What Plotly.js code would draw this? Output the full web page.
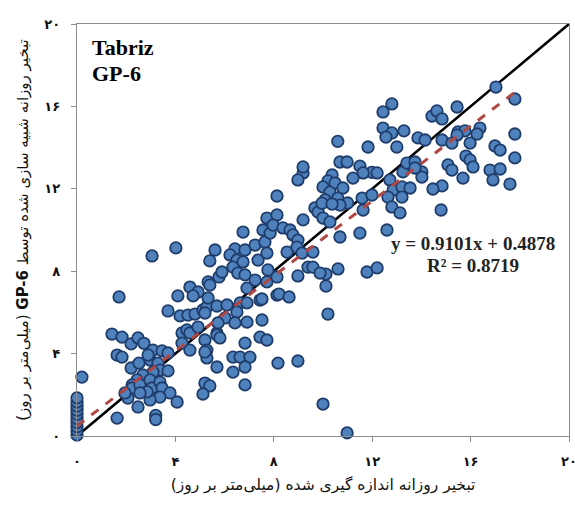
<!DOCTYPE html>
<html>
<head>
<meta charset="utf-8">
<script src="https://cdn.plot.ly/plotly-3.0.1.min.js"></script>
<style>html,body{margin:0;padding:0;background:#fff;}#chart{width:575px;height:505px;}</style>
</head>
<body>
<div id="chart"></div>
<script>
// Measured daily evaporation (mm/day)
const measured = [
0,0,0,0,0,0,0,0,0,0,
0.2,1.63,3.2,3.2,1.42,1.83,2.2,2.48,2.72,3.09,
3.46,3.7,1.63,1.83,2.2,2.52,2.97,2.89,3.29,3.37,
3.7,3.09,2.68,2.44,2.24,2.24,2.56,2.97,3.05,3.37,
3.46,3.78,4.07,3.37,2.97,2.85,2.56,2.48,2.07,1.95,
4.27,4.47,4.59,4.92,4.27,4.59,5.2,5.69,5.28,5.28,
5.69,5.2,5.4,5.12,3.7,4.19,4.51,4.8,5.12,5.28,
5.69,5.2,1.71,3.05,4.02,5.61,5.4,5.77,5.89,5.33,
5.4,4.59,4.92,4.72,4.1,5.33,6.75,6.42,6.83,7.24,
7.64,7.72,8.13,8.13,7.56,7.85,7.36,7.72,6.22,6.5,
6.75,6.34,6.54,6.83,7.24,6.91,7.44,7.76,7.72,8.13,
8.13,6.63,6.5,6.02,6.91,7.52,6.42,6.1,6.91,5.73,
5.69,5.81,5.2,6.34,6.63,7.03,6.83,6.83,6.34,6.83,
7.44,7.72,8.17,8.98,8.98,10.12,10.61,10.12,11.79,12.2,
8.21,8.62,10.2,7.52,10.0,10.98,9.39,9.59,10.6,11.83,
10.69,10.98,11.5,11.99,12.2,11.63,11.22,10.37,10.2,10.0,
10.49,10.81,10.28,10.08,10.6,11.0,10.69,9.19,8.98,9.67,
9.8,10.0,10.28,10.69,11.5,11.63,11.59,9.19,7.97,8.37,
8.66,8.78,8.98,8.54,8.94,9.15,9.59,9.88,12.6,12.8,
12.44,12.44,12.8,12.56,13.29,13.0,13.86,14.15,14.43,9.96,
10.37,11.99,12.72,13.25,13.41,13.74,14.02,12.85,13.21,13.54,
12.64,13.21,12.8,13.13,9.19,17.03,17.8,15.45,14.63,14.84,
15.49,15.77,15.45,16.38,16.26,15.98,17.8,14.84,15.24,16.99,
17.2,17.8,15.81,15.98,16.1,15.08,15.24,16.79,17.2,16.91,
17.6,15.69,14.84,14.47,14.02,13.74,14.8
];
// Simulated daily evaporation by GP-6 (mm/day)
const simulated = [
0.05,0.25,0.45,0.65,0.85,1.05,1.25,1.45,1.65,1.85,
2.86,0.87,1.0,0.8,4.95,4.8,4.47,4.76,4.5,4.17,
4.13,4.03,3.93,3.83,3.3,3.54,3.69,3.93,3.54,3.2,
3.16,3.1,2.96,2.72,2.48,2.33,2.48,2.72,2.33,2.62,
2.33,2.09,1.65,1.89,1.75,2.14,2.09,1.41,1.84,2.09,
5.0,5.15,5.0,5.29,4.51,4.17,4.66,5.0,4.17,3.79,
3.35,2.57,2.43,2.04,6.07,5.83,5.87,5.92,6.12,6.26,
6.31,5.97,6.75,8.74,9.13,9.03,8.5,7.72,7.96,7.48,
7.33,7.23,6.99,6.8,6.8,6.7,9.9,9.08,9.03,9.27,
9.42,10.58,10.73,11.65,10.0,9.85,8.54,8.88,8.79,8.54,
8.45,8.2,7.91,7.82,7.57,7.18,6.6,8.06,7.48,7.72,
6.84,6.46,6.02,5.73,5.53,5.63,5.49,6.36,6.46,5.49,
4.9,4.76,4.08,3.83,3.83,3.83,4.51,3.35,3.1,2.48,
4.8,4.66,3.54,3.64,7.77,7.86,8.11,7.28,7.96,8.16,
6.89,6.75,5.92,6.65,1.55,0.15,8.2,8.2,14.3,14.03,
13.3,13.3,13.1,12.8,12.77,12.77,12.52,12.67,12.38,12.09,
12.28,12.04,11.84,11.46,11.55,11.31,11.21,12.77,12.43,11.07,
10.87,10.58,10.39,9.66,9.85,10.97,11.55,10.49,10.24,10.1,
10.0,9.76,9.51,8.93,9.17,8.88,8.93,7.91,10.0,16.12,
15.73,14.95,14.71,14.51,14.81,14.03,14.47,14.37,15.53,11.3,
11.26,11.7,12.43,12.82,13.25,13.3,12.82,11.94,12.09,12.04,
11.6,11.6,11.12,10.83,13.06,16.94,16.36,15.97,15.78,15.39,
14.76,14.81,14.61,14.95,14.66,14.22,14.66,14.37,14.22,14.08,
13.88,13.5,13.59,13.4,13.06,13.16,12.91,12.91,12.96,12.43,
12.23,12.52,12.14,11.99,12.57,13.01,10.97
];
// 1:1 reference line and fitted trend
const oneToOneX = [0, 20];
const slope = 0.9101;
const intercept = 0.4878;
const trendX = [0, 17.8];
const trendY = trendX.map(v => slope * v + intercept);

const tickVals = [0, 4, 8, 12, 16, 20];
const tickText = ['۰', '۴', '۸', '۱۲', '۱۶', '۲۰'];

const RLE = '\u202B', PDF = '\u202C';
const xTitle = RLE + 'تبخیر روزانه اندازه گیری شده (میلی‌متر بر روز)' + PDF;
const yTitle = RLE + 'تبخیر روزانه شبیه سازی شده توسط <b>GP-6</b> (میلی‌متر بر روز)' + PDF;

const traces = [
  {x: oneToOneX, y: oneToOneX, mode: 'lines', type: 'scatter',
   line: {color: '#000000', width: 2.6}, hoverinfo: 'skip', showlegend: false},
  {x: measured, y: simulated, mode: 'markers', type: 'scatter', cliponaxis: false,
   marker: {size: 11.5, color: '#4F81BD', line: {color: '#1F3D6B', width: 1.8}}, showlegend: false},
  {x: trendX, y: trendY, mode: 'lines', type: 'scatter',
   line: {color: '#B04743', width: 3, dash: 'dash'}, hoverinfo: 'skip', showlegend: false}
];

const axisCommon = {
  range: [0, 20], tickvals: tickVals, ticktext: tickText,
  showgrid: false, zeroline: false, showline: true, mirror: true,
  linecolor: '#8C8C8C', linewidth: 1.2, ticks: 'outside', ticklen: 5,
  tickcolor: '#8C8C8C', ticklabeloverflow: 'allow',
  tickfont: {family: 'DejaVu Sans', size: 13, color: '#111', weight: 'bold'}
};

const layout = {
  width: 575, height: 505,
  margin: {l: 77, r: 6, t: 24, b: 69},
  paper_bgcolor: '#ffffff', plot_bgcolor: '#ffffff',
  showlegend: false,
  xaxis: Object.assign({}, axisCommon, {
    ticklabelstandoff: 8,
    title: {text: xTitle, font: {family: 'DejaVu Sans', size: 15.5, color: '#111'}, standoff: 11}
  }),
  yaxis: Object.assign({}, axisCommon, {
    ticklabelstandoff: 8,
    title: {text: yTitle, font: {family: 'DejaVu Sans', size: 15, color: '#111'}, standoff: 12}
  }),
  annotations: [
    {text: '<b>Tabriz</b>', xref: 'paper', yref: 'paper', x: 0.026, y: 0.942,
     xanchor: 'left', yanchor: 'middle', showarrow: false,
     font: {family: 'Liberation Serif', size: 22, color: '#000'}},
    {text: '<b>GP-6</b>', xref: 'paper', yref: 'paper', x: 0.026, y: 0.879,
     xanchor: 'left', yanchor: 'middle', showarrow: false,
     font: {family: 'Liberation Serif', size: 22, color: '#000'}},
    {text: '<b>y = 0.9101x + 0.4878</b>', xref: 'paper', yref: 'paper', x: 0.805, y: 0.468,
     xanchor: 'center', yanchor: 'middle', showarrow: false,
     font: {family: 'Liberation Serif', size: 19, color: '#222'}},
    {text: '<b>R² = 0.8719</b>', xref: 'paper', yref: 'paper', x: 0.805, y: 0.415,
     xanchor: 'center', yanchor: 'middle', showarrow: false,
     font: {family: 'Liberation Serif', size: 19, color: '#222'}}
  ]
};

Plotly.newPlot('chart', traces, layout, {displayModeBar: false, staticPlot: true});
</script>
</body>
</html>
